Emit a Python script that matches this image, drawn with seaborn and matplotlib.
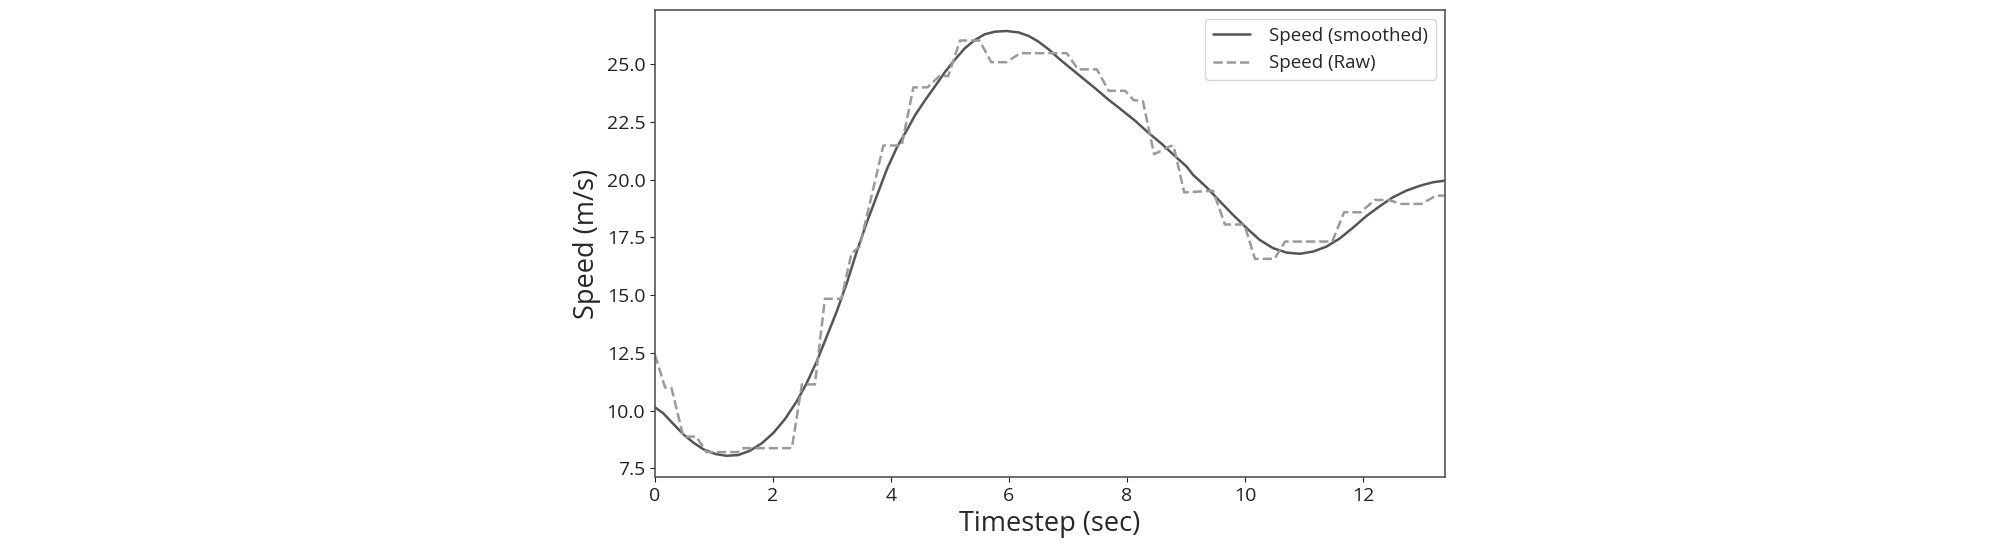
import pandas as pd
import seaborn as sns
from matplotlib import pyplot as plt

# smoothed speed
smooth_t = [0.00, 0.14, 0.31, 0.48, 0.65, 0.82, 1.02, 1.21, 1.41, 1.61, 1.81, 2.01,
            2.20, 2.40, 2.57, 2.74, 2.91, 3.08, 3.25, 3.42, 3.59, 3.76, 3.93, 4.10,
            4.27, 4.41, 4.58, 4.75, 4.92, 5.09, 5.25, 5.42, 5.59, 5.76, 5.96, 6.16,
            6.33, 6.50, 6.67, 6.84, 7.01, 7.23, 7.46, 7.68, 7.91, 8.14, 8.36, 8.59,
            8.81, 9.01, 9.12, 9.35, 9.58, 9.80, 10.03, 10.25, 10.48, 10.71, 10.93, 11.16,
            11.38, 11.61, 11.84, 12.06, 12.29, 12.51, 12.74, 12.97, 13.19, 13.39]
smooth_v = [10.14, 9.88, 9.42, 8.97, 8.61, 8.32, 8.12, 8.04, 8.07, 8.26, 8.58, 9.04,
            9.62, 10.39, 11.18, 12.12, 13.20, 14.29, 15.51, 16.89, 18.15, 19.30, 20.45, 21.40,
            22.15, 22.80, 23.45, 24.06, 24.68, 25.22, 25.69, 26.05, 26.30, 26.41, 26.44, 26.38,
            26.23, 25.98, 25.65, 25.26, 24.90, 24.44, 23.96, 23.48, 23.02, 22.55, 22.04, 21.55,
            21.03, 20.57, 20.21, 19.67, 19.05, 18.47, 17.90, 17.39, 17.03, 16.84, 16.79, 16.89,
            17.10, 17.46, 17.94, 18.43, 18.86, 19.24, 19.53, 19.74, 19.89, 19.96]

# raw speed (dashed), vertices of the stepped line
raw_t = [0.00, 0.17, 0.28, 0.48, 0.70, 0.87, 1.40, 1.50, 2.32, 2.49, 2.71, 2.88,
         3.16, 3.33, 3.47, 3.87, 4.18, 4.38, 4.62, 4.82, 4.97, 5.17, 5.50, 5.70,
         5.96, 6.19, 6.98, 7.17, 7.49, 7.69, 7.97, 8.11, 8.27, 8.46, 8.74, 8.79,
         8.97, 9.46, 9.66, 9.99, 10.17, 10.50, 10.68, 11.48, 11.68, 11.96, 12.20, 12.43,
         12.65, 12.99, 13.24, 13.39]
raw_v = [12.41, 11.00, 10.97, 8.87, 8.87, 8.20, 8.20, 8.37, 8.37, 11.13, 11.13, 14.84,
         14.84, 16.81, 17.10, 21.48, 21.48, 24.00, 24.00, 24.49, 24.49, 26.03, 26.03, 25.09,
         25.09, 25.48, 25.48, 24.78, 24.78, 23.85, 23.85, 23.45, 23.40, 21.10, 21.46, 21.46,
         19.45, 19.52, 18.06, 18.06, 16.57, 16.57, 17.32, 17.32, 18.59, 18.59, 19.12, 19.12,
         18.95, 18.95, 19.31, 19.31]

df_smooth = pd.DataFrame({'t': smooth_t, 'v': smooth_v})
df_raw = pd.DataFrame({'t': raw_t, 'v': raw_v})

sns.set_style('ticks')
plt.rcParams['font.family'] = ['Open Sans', 'DejaVu Sans']

fig, ax = plt.subplots(figsize=(20.08, 5.5), dpi=100)
plt.subplots_adjust(left=0.3262, right=0.7196, top=0.9818, bottom=0.1327)

sns.lineplot(data=df_smooth, x='t', y='v', ax=ax, color='#555555', linewidth=1.8,
             label='Speed (smoothed)')
sns.lineplot(data=df_raw, x='t', y='v', ax=ax, color='#9a9a9a', linewidth=1.8,
             linestyle='--', label='Speed (Raw)')

ax.set_xlim(0, 13.39)
ax.set_ylim(7.12, 27.35)
ax.set_xticks([0, 2, 4, 6, 8, 10, 12])
ax.set_yticks([7.5, 10.0, 12.5, 15.0, 17.5, 20.0, 22.5, 25.0])
ax.set_xlabel('Timestep (sec)', fontsize=19.5)
ax.set_ylabel('Speed (m/s)', fontsize=19.5)
ax.tick_params(labelsize=14, colors='#222222')
for s in ax.spines.values():
    s.set_color('#555555')
    s.set_linewidth(1.2)

ax.legend(loc='upper right', fontsize=13.5, handletextpad=1.0)

plt.savefig('out.png', dpi=100)
